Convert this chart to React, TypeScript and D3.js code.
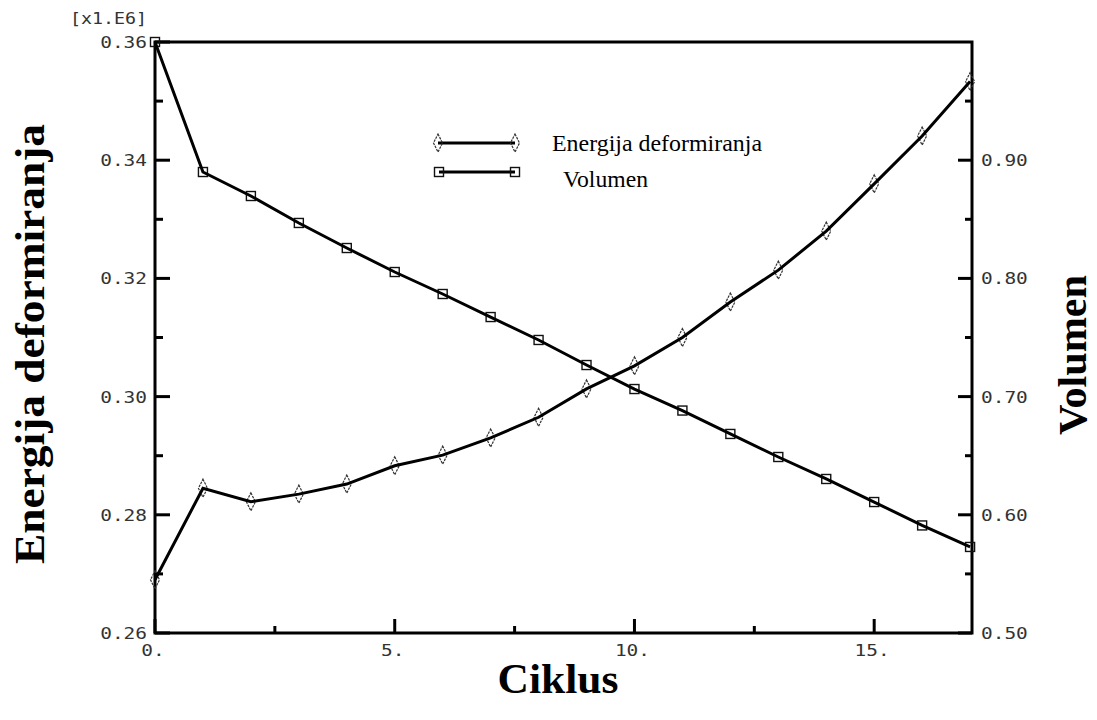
import React from "react";
import * as d3 from "d3";

const cycles = [0, 1, 2, 3, 4, 5, 6, 7, 8, 9, 10, 11, 12, 13, 14, 15, 16, 17];
const energy = [0.269, 0.2845, 0.2822, 0.2835, 0.2852, 0.2883, 0.2901, 0.293, 0.2965, 0.3013, 0.3052, 0.31, 0.316, 0.3214, 0.328, 0.336, 0.3441, 0.3533];
const volume = [1.0, 0.89, 0.8697, 0.8469, 0.8257, 0.8054, 0.7868, 0.7673, 0.7479, 0.7267, 0.7064, 0.6882, 0.6684, 0.6489, 0.6303, 0.6108, 0.591, 0.5728];
const xTicks = [0, 5, 10, 15];
const xTickLabels = ["0.", "5.", "10.", "15."];
const xMinor = [2.5, 7.5, 12.5];
const leftTicks = [0.26, 0.28, 0.3, 0.32, 0.34, 0.36];
const leftTickLabels = ["0.26", "0.28", "0.30", "0.32", "0.34", "0.36"];
const leftMinor = [0.27, 0.29, 0.31, 0.33, 0.35];
const rightTicks = [0.5, 0.6, 0.7, 0.8, 0.9];
const rightTickLabels = ["0.50", "0.60", "0.70", "0.80", "0.90"];
const rightMinor = [0.55, 0.65, 0.75, 0.85, 0.95];
const leftTitle = "Energija deformiranja";
const rightTitle = "Volumen";
const xTitle = "Ciklus";
const scaleNote = "[x1.E6]";
const legendLabels = ["Energija deformiranja", "Volumen"];

const W = 1097, H = 720;
const L = 155, R = 972, T = 42, B = 633;
const CH = 11.7; // monospace char advance

export default function App() {
  const x = d3.scaleLinear().domain([0, 17.04]).range([L, R]);
  const yL = d3.scaleLinear().domain([0.26, 0.36]).range([B, T]);
  const yR = d3.scaleLinear().domain([0.5, 1.0]).range([B, T]);

  const eLine = d3.line<number>().x((_, i) => x(cycles[i])).y((d) => yL(d))(energy) || "";
  const vLine = d3.line<number>().x((_, i) => x(cycles[i])).y((d) => yR(d))(volume) || "";

  const diamond = (cx: number, cy: number, k: string) => (
    <path key={k} d={`M${cx},${cy - 9} L${cx + 4.5},${cy} L${cx},${cy + 9} L${cx - 4.5},${cy} Z`}
      fill="none" stroke="#333" strokeWidth={1.2} strokeDasharray="2.5,1" />
  );
  const square = (cx: number, cy: number, k: string) => (
    <rect key={k} x={cx - 4.5} y={cy - 4.5} width={9} height={9} fill="none" stroke="#111" strokeWidth={1.4} />
  );

  const monoStyle = { fontFamily: "'DejaVu Sans Mono', monospace", fontSize: 16, fill: "#333" } as const;
  const titleStyle = { fontFamily: "'Liberation Serif', 'Times New Roman', serif", fontWeight: 700, fontSize: 42, fill: "#000" } as const;
  const legendStyle = { fontFamily: "'Liberation Serif', 'Times New Roman', serif", fontSize: 24, fill: "#000" } as const;

  return (
    <svg width={W} height={H} style={{ position: "fixed", left: 0, top: 0, background: "#fff" }}>
      {/* frame */}
      <path d={`M${L},${T} L${R},${T} L${R},${B} L${L},${B} Z`} fill="none" stroke="#000" strokeWidth={3} />

      {/* x ticks */}
      {xTicks.map((t, i) => (
        <g key={"xt" + i}>
          <line x1={x(t)} x2={x(t)} y1={B} y2={B - 14} stroke="#000" strokeWidth={3} />
          <text x={x(t) - 2} y={656} textAnchor="middle" style={monoStyle}
            textLength={xTickLabels[i].length * CH} lengthAdjust="spacingAndGlyphs">{xTickLabels[i]}</text>
        </g>
      ))}
      {xMinor.map((t, i) => (
        <line key={"xm" + i} x1={x(t)} x2={x(t)} y1={B} y2={B - 7} stroke="#000" strokeWidth={3} />
      ))}

      {/* left ticks */}
      {leftTicks.map((t, i) => (
        <g key={"lt" + i}>
          <line x1={L} x2={L + 15} y1={yL(t)} y2={yL(t)} stroke="#000" strokeWidth={3} />
          <text x={147} y={yL(t) + 6} textAnchor="end" style={monoStyle}
            textLength={leftTickLabels[i].length * CH} lengthAdjust="spacingAndGlyphs">{leftTickLabels[i]}</text>
        </g>
      ))}
      {leftMinor.map((t, i) => (
        <line key={"lm" + i} x1={L} x2={L + 8} y1={yL(t)} y2={yL(t)} stroke="#000" strokeWidth={3} />
      ))}
      <text x={147} y={24} textAnchor="end" style={monoStyle}
        textLength={scaleNote.length * 11} lengthAdjust="spacingAndGlyphs">{scaleNote}</text>

      {/* right ticks */}
      {rightTicks.map((t, i) => (
        <g key={"rt" + i}>
          <line x1={R} x2={R - 14} y1={yR(t)} y2={yR(t)} stroke="#000" strokeWidth={3} />
          <text x={981} y={yR(t) + 6} textAnchor="start" style={monoStyle}
            textLength={rightTickLabels[i].length * CH} lengthAdjust="spacingAndGlyphs">{rightTickLabels[i]}</text>
        </g>
      ))}
      {rightMinor.map((t, i) => (
        <line key={"rm" + i} x1={R} x2={R - 7} y1={yR(t)} y2={yR(t)} stroke="#000" strokeWidth={3} />
      ))}

      {/* markers */}
      {energy.map((d, i) => diamond(x(cycles[i]), yL(d), "d" + i))}
      {volume.map((d, i) => square(x(cycles[i]), yR(d), "s" + i))}

      {/* lines */}
      <path d={eLine} fill="none" stroke="#000" strokeWidth={3} />
      <path d={vLine} fill="none" stroke="#000" strokeWidth={3} />

      {/* legend */}
      <line x1={438} x2={515} y1={143} y2={143} stroke="#000" strokeWidth={3} />
      {diamond(438, 143, "ld1")}
      {diamond(515, 143, "ld2")}
      <text x={552} y={151} style={legendStyle} textLength={210} lengthAdjust="spacingAndGlyphs">{legendLabels[0]}</text>
      <line x1={439} x2={515} y1={172} y2={172} stroke="#000" strokeWidth={3} />
      {square(439, 172, "ls1")}
      {square(515, 172, "ls2")}
      <text x={563} y={187} style={legendStyle} textLength={85} lengthAdjust="spacingAndGlyphs">{legendLabels[1]}</text>

      {/* titles */}
      <text x={558} y={693} textAnchor="middle" style={titleStyle}
        textLength={121} lengthAdjust="spacingAndGlyphs">{xTitle}</text>
      <text transform={`translate(44,344) rotate(-90)`} textAnchor="middle" style={titleStyle}
        textLength={440} lengthAdjust="spacingAndGlyphs">{leftTitle}</text>
      <text transform={`translate(1086,355) rotate(-90)`} textAnchor="middle"
        style={{ ...titleStyle, fontSize: 40 }}
        textLength={160} lengthAdjust="spacingAndGlyphs">{rightTitle}</text>
    </svg>
  );
}
